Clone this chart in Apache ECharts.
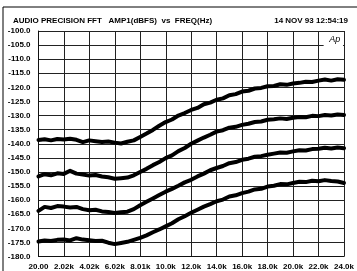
<!DOCTYPE html>
<html>
<head>
<meta charset="utf-8">
<script src="https://cdn.jsdelivr.net/npm/echarts@6/dist/echarts.min.js"></script>
<style>
  html, body { margin: 0; padding: 0; background: #fff; }
  #main { width: 357px; height: 271px; }
</style>
</head>
<body>
<div id="main"></div>
<script>
// FFT 频谱 4 条曲线, 横轴 20Hz ~ 24kHz
const freqK = [0.02, 0.5, 1.0, 1.5, 2.0, 2.5, 3.0, 3.5, 4.0, 4.5, 5.0, 5.5, 6.0, 6.5, 7.0, 7.5,
  8.0, 8.5, 9.0, 9.5, 10.0, 10.5, 11.0, 11.5, 12.0, 12.5, 13.0, 13.5, 14.0, 14.5, 15.0, 15.5,
  16.0, 16.5, 17.0, 17.5, 18.0, 18.5, 19.0, 19.5, 20.0, 20.5, 21.0, 21.5, 22.0, 22.5, 23.0, 23.5, 24.0];

const trace1 = [-138.7, -138.4, -138.8, -138.3, -138.5, -138.2, -138.6, -139.4, -138.8, -139.1, -139.4, -139.2,
  -139.6, -139.9, -139.3, -138.8, -137.6, -136.4, -135.1, -133.6, -132.3, -131.4, -130.0, -129.1, -128.0,
  -127.3, -126.0, -125.4, -124.4, -123.9, -122.8, -122.4, -121.5, -121.2, -120.4, -120.2, -119.6, -119.5,
  -118.9, -119.1, -118.6, -118.4, -118.0, -118.1, -117.6, -117.2, -117.6, -117.1, -117.3];

const trace2 = [-151.6, -150.8, -151.2, -150.5, -150.7, -149.6, -150.6, -150.9, -151.3, -151.1, -151.6, -151.9,
  -152.4, -152.2, -152.0, -151.2, -150.0, -148.9, -147.6, -146.5, -145.1, -144.1, -142.6, -141.5, -140.0,
  -138.9, -137.8, -136.8, -135.7, -135.2, -134.3, -134.0, -133.3, -132.9, -132.3, -132.1, -131.5, -131.3,
  -131.0, -131.2, -130.8, -130.5, -130.6, -130.1, -130.2, -129.8, -130.0, -129.6, -129.8];

const trace3 = [-163.8, -162.4, -162.8, -162.1, -162.3, -162.6, -162.4, -163.2, -163.6, -163.4, -164.0, -164.2,
  -164.6, -164.3, -164.1, -163.2, -161.8, -160.6, -159.4, -158.2, -157.0, -156.0, -154.9, -153.7, -152.8,
  -151.6, -150.6, -149.4, -148.6, -147.9, -146.9, -146.5, -145.7, -145.3, -144.6, -144.4, -143.9, -143.5,
  -143.1, -143.2, -142.7, -142.3, -142.4, -141.9, -141.8, -141.4, -141.7, -141.3, -141.6];

const trace4 = [-174.7, -174.3, -174.5, -174.1, -174.0, -174.3, -173.5, -174.0, -174.2, -174.5, -174.4, -175.1,
  -175.6, -175.2, -174.8, -174.1, -173.4, -172.5, -171.4, -170.4, -169.3, -168.2, -166.8, -165.7, -164.5,
  -163.4, -162.3, -161.4, -160.4, -159.8, -158.7, -158.3, -157.5, -157.0, -156.2, -156.0, -155.2, -154.9,
  -154.3, -154.4, -153.9, -153.5, -153.6, -153.1, -153.3, -152.9, -153.2, -153.4, -153.9];

// 横轴刻度标签 (12 格)
const xTickLabels = ['20.00', '2.02k', '4.02k', '6.02k', '8.01k', '10.0k', '12.0k', '14.0k', '16.0k',
  '18.0k', '20.0k', '22.0k', '24.0k'];
const freqStart = 0.02;
const freqEnd = 24.0;

const yMin = -180;
const yMax = -100;
const yStep = 5;

const titleText = 'AUDIO PRECISION FFT   AMP1(dBFS)  vs  FREQ(Hz)';
const dateText = '14 NOV 93 12:54:19';

const fontName = 'Liberation Sans';
const divWidth = (freqEnd - freqStart) / (xTickLabels.length - 1);

function toPoints(trace) {
  return freqK.map((f, i) => [(f - freqStart) / divWidth, trace[i]]);
}

const chart = echarts.init(document.getElementById('main'), null, { renderer: 'canvas' });

const labelStyle = {
  color: '#000',
  fontFamily: fontName,
  fontWeight: 'bold',
  fontSize: 8
};

const lineSeries = [trace1, trace2, trace3, trace4].map((t, i) => ({
  name: 'trace' + (i + 1),
  type: 'line',
  data: toPoints(t),
  showSymbol: false,
  symbol: 'none',
  silent: true,
  lineStyle: { color: '#000', width: 4, join: 'round', cap: 'round' },
  z: 3
}));

const option = {
  animation: false,
  backgroundColor: '#fff',
  title: [
    { text: titleText, left: 8, top: 11, textStyle: Object.assign({ lineHeight: 9 }, labelStyle) },
    { text: dateText, right: 4, top: 11, textStyle: Object.assign({ lineHeight: 9 }, labelStyle) }
  ],
  grid: { left: 38.5, right: 8.7, top: 31, bottom: 14.5, containLabel: false },
  xAxis: {
    type: 'value',
    min: 0,
    max: xTickLabels.length - 1,
    interval: 1,
    axisLine: { show: true, lineStyle: { color: '#111', width: 1 } },
    axisTick: { show: false },
    splitLine: { show: true, lineStyle: { color: '#222', width: 1 } },
    axisLabel: Object.assign({
      margin: 6,
      showMinLabel: true,
      showMaxLabel: true,
      formatter: (v) => xTickLabels[Math.round(v)]
    }, labelStyle)
  },
  yAxis: {
    type: 'value',
    min: yMin,
    max: yMax,
    interval: yStep,
    axisLine: { show: true, lineStyle: { color: '#111', width: 1 } },
    axisTick: { show: false },
    splitLine: { show: true, lineStyle: { color: '#222', width: 1 } },
    axisLabel: Object.assign({
      margin: 8,
      formatter: (v) => v.toFixed(1)
    }, labelStyle)
  },
  series: lineSeries
};

chart.setOption(option);

// 外框 + 右上角 "Ap" 标志
const cellL = chart.convertToPixel({ gridIndex: 0 }, [11.2, -100]);
const cellR = chart.convertToPixel({ gridIndex: 0 }, [12, -105]);
chart.setOption({
  graphic: [
    {
      type: 'rect', silent: true, z: 0,
      shape: { x: 3, y: 7, width: 400, height: 300 },
      style: { fill: 'none', stroke: '#000', lineWidth: 1 }
    },
    {
      type: 'rect', silent: true, z: 10,
      shape: { x: cellL[0], y: cellR[1] - 2, width: cellR[0] - cellL[0] - 1, height: 4 },
      style: { fill: '#fff' }
    },
    {
      type: 'text', silent: true, z: 11,
      x: (cellL[0] + cellR[0]) / 2 + 1, y: (cellL[1] + cellR[1]) / 2 + 1,
      style: {
        text: 'Ap', fill: '#000', font: 'italic 9px ' + fontName,
        align: 'center', verticalAlign: 'middle'
      }
    }
  ]
});
</script>
</body>
</html>
